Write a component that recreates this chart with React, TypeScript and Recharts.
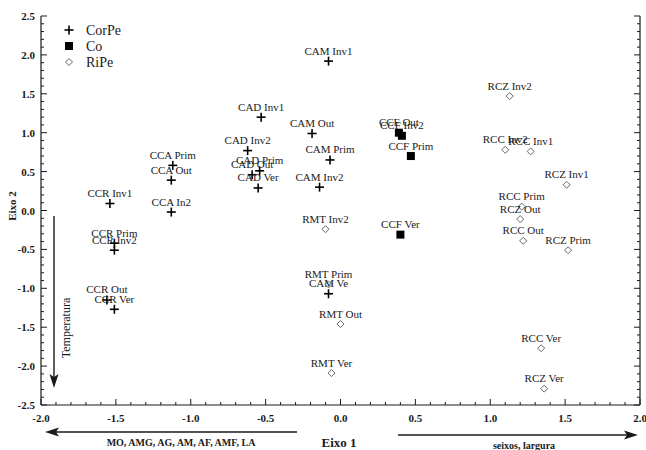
import React from "react";
import { ScatterChart, Scatter, XAxis, YAxis, LabelList } from "recharts";

// scores on Eixo 1 / Eixo 2
const corPeNames = [
  "CAM Inv1", "CAD Inv1", "CAM Out", "CAD Inv2", "CAM Prim", "CAD Prim", "CAD Out",
  "CAD Ver", "CAM Inv2", "CCA Prim", "CCA Out", "CCA In2", "CCR Inv1", "CCR Prim",
  "CCR Inv2", "CCR Out", "CCR Ver", "CAM Ve",
];
const corPeX = [-0.08, -0.53, -0.19, -0.62, -0.07, -0.54, -0.59, -0.55, -0.14, -1.12, -1.13, -1.13, -1.54, -1.51, -1.51, -1.56, -1.51, -0.08];
const corPeY = [1.92, 1.2, 0.99, 0.77, 0.65, 0.51, 0.46, 0.29, 0.3, 0.58, 0.39, -0.02, 0.09, -0.42, -0.51, -1.15, -1.27, -1.07];

const coNames = ["CCF Out", "CCF Inv2", "CCF Prim", "CCF Ver"];
const coX = [0.39, 0.41, 0.47, 0.4];
const coY = [1.0, 0.96, 0.7, -0.31];

const riPeNames = [
  "RCZ Inv2", "RCC Inv2", "RCC Inv1", "RCZ Inv1", "RCC Prim", "RCZ Out", "RCC Out",
  "RCZ Prim", "RCC Ver", "RCZ Ver", "RMT Inv2", "RMT Prim", "RMT Out", "RMT Ver",
];
const riPeX = [1.13, 1.1, 1.27, 1.51, 1.21, 1.2, 1.22, 1.52, 1.34, 1.36, -0.1, -0.08, 0.0, -0.06];
const riPeY = [1.47, 0.78, 0.76, 0.33, 0.05, -0.11, -0.39, -0.51, -1.77, -2.29, -0.24, -0.95, -1.46, -2.09];

const xMajor = [-2.0, -1.5, -1.0, -0.5, 0.0, 0.5, 1.0, 1.5, 2.0];
const yMajor = [-2.5, -2.0, -1.5, -1.0, -0.5, 0.0, 0.5, 1.0, 1.5, 2.0, 2.5];

const minorSteps = (lo: number, hi: number) => {
  const out: number[] = [];
  for (let i = Math.round(lo * 10); i <= Math.round(hi * 10); i++) out.push(i / 10);
  return out;
};
const xTicks = minorSteps(-2, 2);
const yTicks = minorSteps(-2.5, 2.5);

const build = (names: string[], xs: number[], ys: number[]) =>
  names.map((name, i) => ({ name, x: xs[i], y: ys[i] }));

const corPe = build(corPeNames, corPeX, corPeY);
const co = build(coNames, coX, coY);
const riPe = build(riPeNames, riPeX, riPeY);

const SERIF = "Liberation Serif, Times New Roman, DejaVu Serif, serif";
const INK = "#1a1a1a";
const serif = (size: number, bold = false) => ({
  fontFamily: SERIF,
  fontSize: size,
  fontWeight: bold ? 700 : 400,
});

const isMajor = (v: number, list: number[]) => list.some((m) => Math.abs(m - v) < 1e-6);

function XTick(props: any) {
  const { x, y, payload, orientation } = props;
  const v = Math.round(payload.value * 10) / 10;
  const major = isMajor(v, xMajor);
  const len = major ? 6 : 3;
  const dir = orientation === "top" ? 1 : -1;
  return (
    <g>
      <line x1={x} x2={x} y1={y} y2={y + dir * len} stroke={INK} strokeWidth={1} />
      {major && orientation !== "top" && (
        <text x={x} y={y + 17} textAnchor="middle" style={serif(11, true)} fill={INK}>
          {v.toFixed(1)}
        </text>
      )}
    </g>
  );
}

function YTick(props: any) {
  const { x, y, payload, orientation } = props;
  const v = Math.round(payload.value * 10) / 10;
  const major = isMajor(v, yMajor);
  const len = major ? 6 : 3;
  const dir = orientation === "right" ? -1 : 1;
  return (
    <g>
      <line x1={x} x2={x + dir * len} y1={y} y2={y} stroke={INK} strokeWidth={1} />
      {major && orientation !== "right" && (
        <text x={x - 6} y={y + 4} textAnchor="end" style={serif(11, true)} fill={INK}>
          {v.toFixed(1)}
        </text>
      )}
    </g>
  );
}

const PlusShape = ({ cx, cy }: any) => (
  <g stroke="#000" strokeWidth={1.6}>
    <line x1={cx - 4.5} x2={cx + 4.5} y1={cy} y2={cy} />
    <line x1={cx} x2={cx} y1={cy - 4.5} y2={cy + 4.5} />
  </g>
);
const SquareShape = ({ cx, cy }: any) => <rect x={cx - 4} y={cy - 4} width={8} height={8} fill="#000" />;
const DiamondShape = ({ cx, cy }: any) => (
  <path
    d={`M${cx},${cy - 3.5}L${cx + 3.5},${cy}L${cx},${cy + 3.5}L${cx - 3.5},${cy}Z`}
    fill="#fff"
    stroke="#666"
    strokeWidth={1}
  />
);

// point label: single line, centred, baseline a few px above the marker
const PointLabel = (props: any) => {
  const { x, y, width, height, value } = props;
  const cx = x + width / 2;
  const cy = y + height / 2;
  return (
    <text x={cx} y={cy - 6.5} textAnchor="middle" style={serif(11)} fill={INK}>
      {value}
    </text>
  );
};

const legendItems = [
  { name: "CorPe", Shape: PlusShape },
  { name: "Co", Shape: SquareShape },
  { name: "RiPe", Shape: DiamondShape },
];

export default function App() {
  return (
    <div style={{ position: "absolute", left: 0, top: 0, width: 646, height: 450, background: "#fff" }}>
      <ScatterChart width={646} height={450} margin={{ top: 16, right: 0, bottom: 0, left: 0 }}>
        <XAxis
          dataKey="x"
          type="number"
          domain={[-2, 2]}
          ticks={xTicks}
          interval={0}
          height={45}
          tickSize={0}
          tickMargin={0}
          tickLine={false}
          tick={<XTick />}
          axisLine={{ stroke: INK, strokeWidth: 1.2 }}
          allowDataOverflow
        />
        <XAxis
          xAxisId="top"
          orientation="top"
          type="number"
          domain={[-2, 2]}
          ticks={xTicks}
          interval={0}
          height={0}
          tickSize={0}
          tickMargin={0}
          tickLine={false}
          tick={<XTick />}
          axisLine={{ stroke: INK, strokeWidth: 1.2 }}
          allowDataOverflow
        />
        <YAxis
          dataKey="y"
          type="number"
          domain={[-2.5, 2.5]}
          ticks={yTicks}
          interval={0}
          width={41}
          tickSize={0}
          tickMargin={0}
          tickLine={false}
          tick={<YTick />}
          axisLine={{ stroke: INK, strokeWidth: 1.2 }}
          allowDataOverflow
        />
        <YAxis
          yAxisId="right"
          orientation="right"
          type="number"
          domain={[-2.5, 2.5]}
          ticks={yTicks}
          interval={0}
          width={6}
          tickSize={0}
          tickMargin={0}
          tickLine={false}
          tick={<YTick />}
          axisLine={{ stroke: INK, strokeWidth: 1.2 }}
          allowDataOverflow
        />
        <Scatter name="CorPe" data={corPe} shape={PlusShape} isAnimationActive={false}>
          <LabelList dataKey="name" content={PointLabel} />
        </Scatter>
        <Scatter name="Co" data={co} shape={SquareShape} isAnimationActive={false}>
          <LabelList dataKey="name" content={PointLabel} />
        </Scatter>
        <Scatter name="RiPe" data={riPe} shape={DiamondShape} isAnimationActive={false}>
          <LabelList dataKey="name" content={PointLabel} />
        </Scatter>
      </ScatterChart>

      <svg
        width={646}
        height={450}
        style={{ position: "absolute", left: 0, top: 0, pointerEvents: "none" }}
      >
        {legendItems.map((item, i) => {
          const cy = 30 + i * 16;
          const S = item.Shape;
          return (
            <g key={item.name}>
              <S cx={69} cy={cy} />
              <text x={86} y={cy + 5} style={serif(14)} fill={INK}>
                {item.name}
              </text>
            </g>
          );
        })}

        <text x={339} y={447} textAnchor="middle" style={serif(13, true)} fill={INK}>
          Eixo 1
        </text>
        <text
          x={16}
          y={206}
          textAnchor="middle"
          style={serif(11, true)}
          fill={INK}
          transform="rotate(-90 16 206)"
        >
          Eixo 2
        </text>

        {/* left-pointing arrow under the axis */}
        <line x1={56} x2={297} y1={432} y2={432} stroke={INK} strokeWidth={1.4} />
        <polygon points="45,432 59,427.5 56,432 59,436.5" fill={INK} />
        <text x={181} y={446} textAnchor="middle" style={serif(10, true)} fill={INK}>
          MO, AMG, AG, AM, AF, AMF, LA
        </text>

        {/* right-pointing arrow */}
        <line x1={398} x2={627} y1={435} y2={435} stroke={INK} strokeWidth={1.4} />
        <polygon points="638,435 624,430.5 627,435 624,439.5" fill={INK} />
        <text x={524} y={449} textAnchor="middle" style={serif(10, true)} fill={INK}>
          seixos, largura
        </text>

        {/* downward arrow */}
        <line x1={54} x2={54} y1={216} y2={377} stroke={INK} strokeWidth={1.4} />
        <polygon points="54,388 49.5,374 54,377 58.5,374" fill={INK} />
        <text
          x={70}
          y={328}
          textAnchor="middle"
          style={serif(12)}
          fill={INK}
          transform="rotate(-90 70 328)"
        >
          Temperatura
        </text>
      </svg>
    </div>
  );
}
